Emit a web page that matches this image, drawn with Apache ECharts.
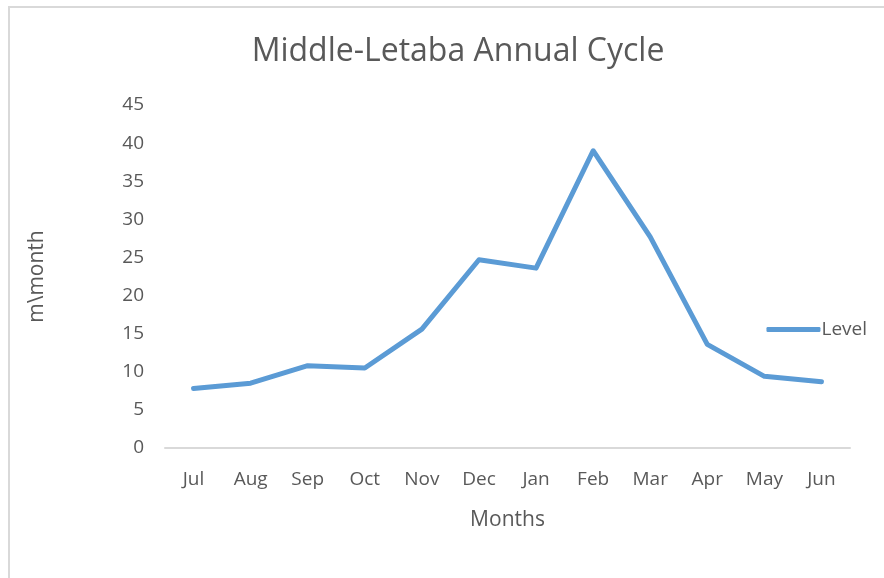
<!DOCTYPE html>
<html>
<head>
    <meta charset="utf-8">
    <title>Middle-Letaba Annual Cycle</title>
    <script src="https://fastly.jsdelivr.net/npm/echarts@6/dist/echarts.min.js"></script>
    <style>
        html, body { margin: 0; padding: 0; background: #fff; }
        #frame { position: absolute; left: 8px; top: 6px; width: 890px; height: 590px; border: 2px solid #d9d9d9; box-sizing: border-box; }
    </style>
</head>
<body>
    <div id="frame"></div>
    <div id="main" style="position:absolute;left:0;top:0;width:884px;height:578px;"></div>
    <script type="text/javascript">
        // data
        var months = ['Jul', 'Aug', 'Sep', 'Oct', 'Nov', 'Dec', 'Jan', 'Feb', 'Mar', 'Apr', 'May', 'Jun'];
        var level = [7.8, 8.5, 10.8, 10.5, 15.6, 24.7, 23.6, 39.0, 27.7, 13.6, 9.4, 8.7];
        var yTicks = [0, 5, 10, 15, 20, 25, 30, 35, 40, 45];

        var font = 'Open Sans, Noto Sans, sans-serif';
        var myChart = echarts.init(document.getElementById('main'));

        var option = {
            animation: false,
            title: {
                text: 'Middle-Letaba Annual Cycle',
                left: 453,
                textAlign: 'center',
                top: 31,
                textStyle: { fontFamily: font, fontSize: 32, fontWeight: 'normal', color: '#595959' }
            },
            legend: {
                right: 12,
                top: 315,
                itemWidth: 54,
                itemHeight: 5,
                itemGap: 4,
                icon: 'roundRect',
                textStyle: { fontFamily: font, fontSize: 19, color: '#595959', padding: [0, 0, 0, -4] },
                data: ['Level']
            },
            grid: { left: 165, right: 34, top: 105, bottom: 130 },
            xAxis: {
                type: 'category',
                data: months,
                name: 'Months',
                nameLocation: 'middle',
                nameGap: 62,
                nameTextStyle: { fontFamily: font, fontSize: 21, color: '#595959' },
                axisLine: { lineStyle: { color: '#d9d9d9', width: 2 } },
                axisTick: { show: false },
                axisLabel: { fontFamily: font, fontSize: 19, color: '#595959', margin: 22 }
            },
            yAxis: {
                type: 'value',
                min: yTicks[0],
                max: yTicks[yTicks.length - 1],
                interval: 5,
                name: 'm\\month',
                nameLocation: 'middle',
                nameGap: 117,
                nameTextStyle: { fontFamily: font, fontSize: 21, color: '#595959' },
                axisLine: { show: false },
                axisTick: { show: false },
                splitLine: { show: false },
                axisLabel: { fontFamily: font, fontSize: 19, color: '#595959', margin: 21 }
            },
            series: [{
                name: 'Level',
                type: 'line',
                data: level,
                symbol: 'none',
                lineStyle: { color: '#5b9bd5', width: 5, cap: 'round', join: 'round' },
                itemStyle: { color: '#5b9bd5' }
            }]
        };

        myChart.setOption(option);
    </script>
</body>
</html>
